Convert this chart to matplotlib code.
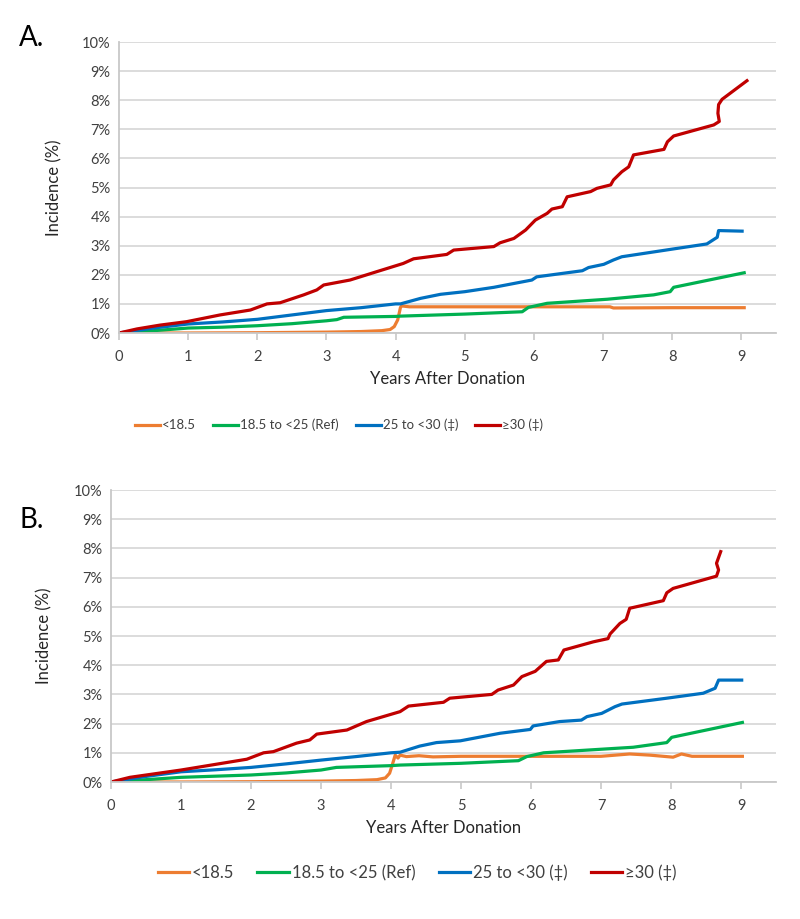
import matplotlib
matplotlib.use('Agg')
import matplotlib.pyplot as plt
from matplotlib.ticker import FuncFormatter, MultipleLocator

plt.rcParams['font.family'] = ['Lato', 'DejaVu Sans']

labels = ['<18.5', '18.5 to <25 (Ref)', '25 to <30 (\u2021)', '\u226530 (\u2021)']
colors = ['#ED7D31', '#00B050', '#0070C0', '#C00000']

# Panel A: cumulative incidence (%) vs years after donation
a_under_x = [0, 1, 2, 3, 3.5, 3.8, 3.92, 3.98, 4.03, 4.07, 4.09, 4.2, 4.5, 5, 6, 7.1, 7.15, 8, 9.04]
a_under_y = [0, 0.0, 0.01, 0.03, 0.05, 0.08, 0.12, 0.22, 0.45, 0.88, 0.93, 0.9, 0.9, 0.9, 0.9, 0.9, 0.86, 0.87, 0.87]
a_ref_x = [0, 0.5, 1, 1.5, 2, 2.5, 3, 3.15, 3.25, 4, 4.07, 5, 5.83, 5.92, 6.19, 7.06, 7.73, 7.97, 8.02, 9.04]
a_ref_y = [0, 0.08, 0.17, 0.2, 0.25, 0.32, 0.42, 0.46, 0.54, 0.57, 0.58, 0.65, 0.73, 0.88, 1.02, 1.16, 1.31, 1.42, 1.57, 2.07]
a_over_x = [0, 0.5, 1, 1.5, 2, 2.5, 3, 3.5, 4, 4.07, 4.36, 4.65, 5.0, 5.42, 5.97, 6.04, 6.7, 6.79, 7.01,
            7.15, 7.27, 8.02, 8.5, 8.65, 8.67, 9.01]
a_over_y = [0, 0.17, 0.31, 0.38, 0.47, 0.62, 0.77, 0.87, 1.0, 1.0, 1.19, 1.33, 1.42, 1.57, 1.82, 1.93, 2.14, 2.25,
            2.36, 2.51, 2.62, 2.89, 3.06, 3.29, 3.52, 3.5]
a_obese_x = [0, 0.26, 0.59, 0.98, 1.46, 1.9, 2.14, 2.33, 2.67, 2.86, 2.96, 3.34, 3.73, 4.11, 4.26, 4.74, 4.84,
             5.42, 5.51, 5.71, 5.88, 6.02, 6.19, 6.26, 6.41, 6.48, 6.82, 6.91, 7.11, 7.15, 7.27, 7.37, 7.44,
             7.88, 7.93, 8.02, 8.6, 8.68, 8.66, 8.67, 8.72, 9.08]
a_obese_y = [0, 0.14, 0.27, 0.39, 0.62, 0.79, 1.0, 1.04, 1.31, 1.48, 1.65, 1.82, 2.11, 2.39, 2.55, 2.7, 2.85,
             2.97, 3.1, 3.25, 3.54, 3.88, 4.11, 4.26, 4.34, 4.68, 4.86, 4.97, 5.09, 5.26, 5.54, 5.71, 6.12,
             6.31, 6.57, 6.77, 7.15, 7.27, 7.55, 7.85, 8.03, 8.67]

# Panel B
b_under_x = [0, 1, 2, 3, 3.5, 3.8, 3.92, 3.98, 4.02, 4.06, 4.1, 4.13, 4.22, 4.4, 4.6, 5, 6, 7, 7.41, 7.7, 8.03,
             8.15, 8.3, 9.02]
b_under_y = [0, 0.0, 0.01, 0.03, 0.05, 0.08, 0.14, 0.3, 0.6, 0.92, 0.82, 0.92, 0.87, 0.9, 0.86, 0.88, 0.88, 0.88,
             0.96, 0.92, 0.85, 0.96, 0.88, 0.88]
b_ref_x = [0, 0.5, 1, 1.5, 2, 2.5, 3, 3.22, 4, 4.13, 5, 5.82, 5.94, 6.18, 7.46, 7.94, 8.01, 9.02]
b_ref_y = [0, 0.08, 0.16, 0.2, 0.24, 0.31, 0.41, 0.5, 0.56, 0.58, 0.64, 0.73, 0.87, 1.0, 1.19, 1.35, 1.53, 2.04]
b_over_x = [0, 0.5, 1, 1.5, 2, 2.5, 3, 3.5, 4, 4.13, 4.41, 4.65, 4.99, 5.56, 5.99, 6.03, 6.41, 6.72, 6.8, 7.01,
            7.2, 7.3, 7.94, 8.46, 8.63, 8.68, 9.01]
b_over_y = [0, 0.19, 0.35, 0.42, 0.5, 0.62, 0.75, 0.87, 1.0, 1.02, 1.23, 1.35, 1.41, 1.67, 1.8, 1.92, 2.07, 2.12,
            2.24, 2.35, 2.58, 2.67, 2.87, 3.04, 3.21, 3.49, 3.49]
b_obese_x = [0, 0.27, 1.0, 1.94, 2.18, 2.32, 2.65, 2.84, 2.94, 3.37, 3.65, 4.13, 4.25, 4.75, 4.84, 5.44, 5.53,
             5.75, 5.87, 6.06, 6.22, 6.39, 6.47, 6.89, 7.1, 7.13, 7.27, 7.36, 7.41, 7.89, 7.94, 8.03, 8.65,
             8.68, 8.65, 8.71]
b_obese_y = [0, 0.16, 0.41, 0.78, 1.0, 1.04, 1.33, 1.44, 1.64, 1.78, 2.07, 2.41, 2.6, 2.73, 2.87, 3.0, 3.15,
             3.32, 3.61, 3.79, 4.13, 4.18, 4.52, 4.8, 4.91, 5.07, 5.43, 5.57, 5.95, 6.21, 6.48, 6.63, 7.05,
             7.26, 7.49, 7.89]

W, H = 800, 919

fig = plt.figure(figsize=(W / 100, H / 100), dpi=100)
fig.patch.set_facecolor('white')

series_a = [(a_under_x, a_under_y), (a_ref_x, a_ref_y), (a_over_x, a_over_y), (a_obese_x, a_obese_y)]
series_b = [(b_under_x, b_under_y), (b_ref_x, b_ref_y), (b_over_x, b_over_y), (b_obese_x, b_obese_y)]

axA = fig.add_axes([119 / W, 1 - 333 / H, 657 / W, 291 / H])
axB = fig.add_axes([111 / W, 1 - 782 / H, 665 / W, 292 / H])

# (axes, data, pixel box, letter, letter pos, ylabel x, legend centre, legend font, column spacing)
for ax, series, box, letter, lxy, ylx, legxy, lsize, colsp in [
        (axA, series_a, (119, 42, 776, 333), 'A.', (19, 38), 62, (339, 425), 9.5, 1.3),
        (axB, series_b, (111, 490, 776, 782), 'B.', (19, 520), 52, (417, 873), 12, 1.4)]:
    left, top, right, bottom = box
    for (xs, ys), lab, col in zip(series, labels, colors):
        ax.plot(xs, ys, color=col, lw=2.3, label=lab)
    ax.set_xlim(0, 9.5)
    ax.set_ylim(0, 10)
    ax.xaxis.set_major_locator(MultipleLocator(1))
    ax.yaxis.set_major_locator(MultipleLocator(1))
    ax.yaxis.set_major_formatter(FuncFormatter(lambda v, p: '%d%%' % v))
    ax.grid(axis='y', color='#D9D9D9', lw=1.3)
    ax.set_axisbelow(True)
    for s in ['top', 'right']:
        ax.spines[s].set_visible(False)
    for s in ['left', 'bottom']:
        ax.spines[s].set_color('#C8C8C8')
        ax.spines[s].set_linewidth(1.3)
    ax.tick_params(axis='y', length=0, labelsize=10.5, labelcolor='#404040', pad=6)
    ax.tick_params(axis='x', length=5, width=1.2, color='#C8C8C8', labelsize=10.5,
                   labelcolor='#404040', pad=7)
    ax.set_xlabel('Years After Donation', fontsize=12, color='#262626', labelpad=5)
    ax.set_ylabel('Incidence (%)', fontsize=12, color='#262626')
    ax.yaxis.set_label_coords((ylx - left) / (right - left), 0.5)
    fig.text(lxy[0] / W, 1 - lxy[1] / H, letter, fontsize=20, ha='left', va='center')
    ax.legend(loc='center', bbox_to_anchor=(legxy[0] / W, 1 - legxy[1] / H),
              bbox_transform=fig.transFigure, ncol=4, frameon=False, fontsize=lsize,
              handlelength=1.9, handletextpad=0.15, columnspacing=colsp, labelcolor='#404040')

fig.savefig('out.png', dpi=100, facecolor='white')
